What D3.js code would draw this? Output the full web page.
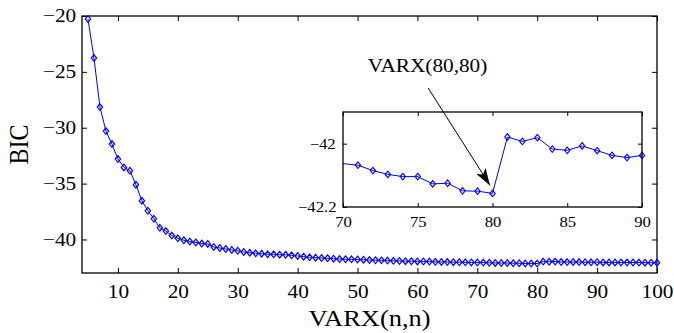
<!DOCTYPE html>
<html>
<head>
<meta charset="utf-8">
<script src="https://cdn.jsdelivr.net/npm/d3@7"></script>
<style>
  body { margin: 0; background: #fff; }
  text { font-family: "Liberation Serif", "Times New Roman", serif; fill: #000; }
  text.wide { transform-box: fill-box; transform-origin: center; transform: scaleX(1.15); }
</style>
</head>
<body>
<script>
// model orders and BIC values
var orders = d3.range(5, 101);
var bic = [
  -20.27, -23.76, -28.15, -30.3, -31.46, -32.8, -33.55, -33.85, -35.1, -36.53,   // 5-14
  -37.43, -38.15, -38.96, -39.25, -39.65, -39.9, -40.07, -40.18, -40.27, -40.36, // 15-24
  -40.4, -40.67, -40.76, -40.85, -40.94, -41.01, -41.12, -41.18, -41.24, -41.27, // 25-34
  -41.33, -41.33, -41.36, -41.37, -41.42, -41.48, -41.54, -41.6, -41.63, -41.66, // 35-44
  -41.68, -41.72, -41.75, -41.77, -41.78, -41.79, -41.81, -41.84, -41.86, -41.87, // 45-54
  -41.89, -41.91, -41.93, -41.94, -41.95, -41.96, -41.97, -41.98, -42.0, -42.01,  // 55-64
  -42.02, -42.03, -42.04, -42.045, -42.055,                                        // 65-69
  -42.063, -42.068, -42.085, -42.097, -42.104, -42.104, -42.127, -42.125, -42.149, -42.15, // 70-79
  -42.157, -41.979, -41.993, -41.981, -42.017, -42.021, -42.007, -42.022, -42.037, -42.044, // 80-89
  -42.037, -42.05, -42.055, -42.05, -42.06, -42.065, -42.06, -42.07, -42.075, -42.08, -42.08 // 90-100
];
var xTicks = [10, 20, 30, 40, 50, 60, 70, 80, 90, 100];
var yTicks = [-40, -35, -30, -25, -20];
var insetRange = [70, 90];
var insetXTicks = [70, 75, 80, 85, 90];
var insetYTicks = [-42.2, -42];
var noteText = "VARX(80,80)";
var noteOrder = 80;

var data = orders.map(function(n, i) { return {n: n, v: bic[i]}; });

var svg = d3.select("body").append("svg")
    .attr("width", 674)
    .attr("height", 333);

// main axes
var mL = 82, mR = 657, mT = 16, mB = 273;
var x = d3.scaleLinear().domain([4, 100]).range([mL, mR]);
var y = d3.scaleLinear().domain([-43, -20]).range([mB, mT]);

var line = d3.line().x(function(d) { return x(d.n); }).y(function(d) { return y(d.v); });
var diamond = "M0,-3.3L2.7,0L0,3.3L-2.7,0Z";

function styleAxis(g, size) {
  g.select(".domain").remove();
  g.selectAll(".tick line").attr("stroke", "#000").attr("stroke-width", 1);
  g.selectAll(".tick text").attr("class", "wide")
    .style("font-size", size + "px").style("font-family", "'Liberation Serif', serif").attr("fill", "#000");
}

svg.append("g").attr("transform", "translate(0," + mB + ")")
    .call(d3.axisBottom(x).tickValues(xTicks).tickSizeInner(-5).tickSizeOuter(0).tickPadding(12))
    .call(styleAxis, 18.5);
svg.append("g").attr("transform", "translate(0," + mT + ")")
    .call(d3.axisTop(x).tickValues(xTicks).tickSizeInner(-5).tickSizeOuter(0).tickFormat(""))
    .call(styleAxis, 18.5);
svg.append("g").attr("transform", "translate(" + mL + ",0)")
    .call(d3.axisLeft(y).tickValues(yTicks).tickSizeInner(-5).tickSizeOuter(0).tickPadding(8))
    .call(styleAxis, 18.5);
svg.append("g").attr("transform", "translate(" + mR + ",0)")
    .call(d3.axisRight(y).tickValues(yTicks).tickSizeInner(-5).tickSizeOuter(0).tickFormat(""))
    .call(styleAxis, 18.5);
svg.append("rect").attr("x", mL).attr("y", mT)
    .attr("width", mR - mL).attr("height", mB - mT)
    .attr("fill", "none").attr("stroke", "#000").attr("stroke-width", 1.3);

svg.append("path").datum(data)
    .attr("d", line).attr("fill", "none").attr("stroke", "#0000ff").attr("stroke-width", 1);
svg.selectAll(".mk").data(data).enter().append("path")
    .attr("class", "mk")
    .attr("d", diamond)
    .attr("transform", function(d) { return "translate(" + x(d.n) + "," + y(d.v) + ")"; })
    .attr("fill", "none").attr("stroke", "#0000ff").attr("stroke-width", 1.2);

// labels
svg.append("text").attr("class", "wide")
    .attr("x", (mL + mR) / 2).attr("y", 326)
    .attr("text-anchor", "middle").style("font-size", "23px")
    .text("VARX(n,n)");
svg.append("text")
    .attr("transform", "translate(28," + (mT + mB) / 2 + ") rotate(-90) scale(1,1.15)")
    .attr("text-anchor", "middle").style("font-size", "24px")
    .text("BIC");

// inset
var iL = 343, iR = 642, iT = 112, iB = 207;
var ix = d3.scaleLinear().domain(insetRange).range([iL, iR]);
var iy = d3.scaleLinear().domain([-42.2, -41.9]).range([iB, iT]);
var insetData = data.filter(function(d) { return d.n >= insetRange[0] && d.n <= insetRange[1]; });
var inset = svg.append("g");
inset.append("rect").attr("x", iL).attr("y", iT).attr("width", iR - iL).attr("height", iB - iT)
    .attr("fill", "#fff");
inset.append("g").attr("transform", "translate(0," + iB + ")")
    .call(d3.axisBottom(ix).tickValues(insetXTicks).tickSizeInner(-4).tickSizeOuter(0).tickPadding(10))
    .call(styleAxis, 14.5);
inset.append("g").attr("transform", "translate(0," + iT + ")")
    .call(d3.axisTop(ix).tickValues(insetXTicks).tickSizeInner(-4).tickSizeOuter(0).tickFormat(""))
    .call(styleAxis, 14.5);
inset.append("g").attr("transform", "translate(" + iL + ",0)")
    .call(d3.axisLeft(iy).tickValues(insetYTicks).tickSizeInner(-4).tickSizeOuter(0).tickPadding(9)
      .tickFormat(d3.format("~f")))
    .call(styleAxis, 14.5);
inset.append("g").attr("transform", "translate(" + iR + ",0)")
    .call(d3.axisRight(iy).tickValues(insetYTicks).tickSizeInner(-4).tickSizeOuter(0).tickFormat(""))
    .call(styleAxis, 14.5);
var iline = d3.line().x(function(d) { return ix(d.n); }).y(function(d) { return iy(d.v); });
inset.append("path").datum(insetData)
    .attr("d", iline).attr("fill", "none").attr("stroke", "#0000ff").attr("stroke-width", 1);
inset.selectAll(".imk").data(insetData.filter(function(d) { return d.n > insetRange[0]; }))
    .enter().append("path")
    .attr("class", "imk")
    .attr("d", diamond)
    .attr("transform", function(d) { return "translate(" + ix(d.n) + "," + iy(d.v) + ")"; })
    .attr("fill", "none").attr("stroke", "#0000ff").attr("stroke-width", 1.1);
inset.append("rect").attr("x", iL).attr("y", iT).attr("width", iR - iL).attr("height", iB - iT)
    .attr("fill", "none").attr("stroke", "#000").attr("stroke-width", 1.3);

// annotation arrow pointing at VARX(80,80)
var target = insetData.filter(function(d) { return d.n === noteOrder; })[0];
var tipX = ix(target.n) - 2.5, tipY = iy(target.v) - 8;
var tailX = x(61.8), tailY = y(-26.45);
svg.append("defs").append("marker")
    .attr("id", "head").attr("viewBox", "0 0 17 11")
    .attr("refX", 17).attr("refY", 5.5)
    .attr("markerWidth", 17).attr("markerHeight", 11)
    .attr("markerUnits", "userSpaceOnUse")
    .attr("orient", "auto")
    .append("path").attr("d", "M0,0L17,5.5L0,11L4,5.5Z").attr("fill", "#000");
svg.append("line")
    .attr("x1", tailX).attr("y1", tailY).attr("x2", tipX).attr("y2", tipY)
    .attr("stroke", "#000").attr("stroke-width", 1)
    .attr("marker-end", "url(#head)");
svg.append("text").attr("class", "wide")
    .attr("x", x(61.7)).attr("y", y(-25.02))
    .attr("text-anchor", "middle").style("font-size", "18.5px")
    .text(noteText);
</script>
</body>
</html>
